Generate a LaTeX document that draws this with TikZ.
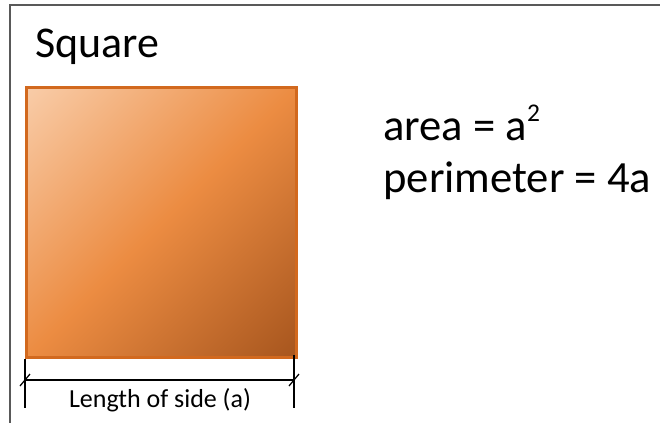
\documentclass[tikz,border=0pt]{standalone}
\usepackage{fontspec}
\setmainfont{Carlito}
\usetikzlibrary{positioning, shadings}

\definecolor{sqedge}{HTML}{D2691E}
\definecolor{sqlight}{HTML}{FAD3B3}
\definecolor{sqmid}{HTML}{EC8C42}
\definecolor{sqdark}{HTML}{A0501A}

% light corner to dark corner, spread over the whole square
\pgfdeclareverticalshading{sqshade}{100bp}{color(0bp)=(sqdark); color(11bp)=(sqdark);
  color(50bp)=(sqmid); color(89bp)=(sqlight); color(100bp)=(sqlight)}

\begin{document}
\begin{tikzpicture}[x=0.02cm, y=-0.02cm]
\useasboundingbox (0,0) rectangle (660,423);

% frame of the slide
\draw[gray!70!black, line width=0.6pt] (10,423) -- (10,5) -- (660,5);

% title
\node[anchor=base west, inner sep=0pt, font=\fontsize{25}{30}\selectfont] (title) at (35,57) {Square};

% the square, shaded from light to dark along the diagonal
\node[draw=sqedge, line width=1.5pt, inner sep=0pt, minimum size=5.4cm,
      shade, shading=sqshade, shading angle=45,
      anchor=north west] (sq) at (25,86) {};

% formulas
\node[anchor=base west, inner sep=0pt, font=\fontsize{25.4}{30}\selectfont] (area) at (383,140)
  {area = a\raisebox{0.42em}{\fontsize{14.5}{15}\selectfont 2}};
\node[anchor=base west, inner sep=0pt, font=\fontsize{25.4}{30}\selectfont] (perim) at (383,192) {perimeter = 4a};

% dimension line
\coordinate (dimL) at (25,380);
\coordinate (dimR) at (294,380);
\draw[line width=0.7pt] (sq.south west) -- (25,408);
\draw[line width=0.7pt] (294,355) -- (294,408);
\draw[line width=0.7pt] (dimL) -- (dimR);
\draw[line width=0.7pt] (dimL) ++(-5,6) -- ++(10,-12);
\draw[line width=0.7pt] (dimR) ++(-5,6) -- ++(10,-12);
\node[anchor=base, inner sep=0pt, font=\fontsize{14.8}{18}\selectfont] (side) at (160,407) {Length of side (a)};
\end{tikzpicture}
\end{document}
